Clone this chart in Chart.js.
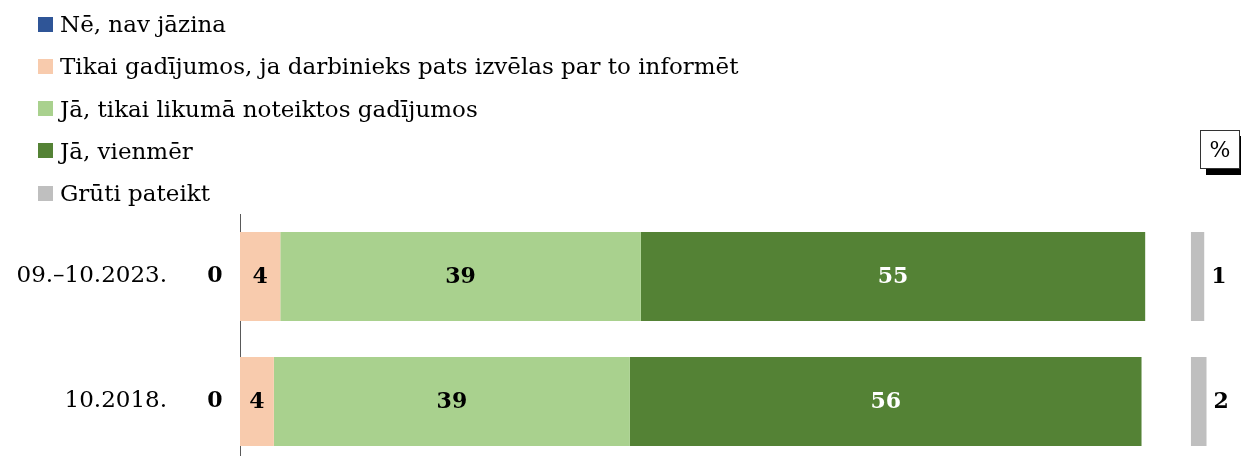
<!DOCTYPE html>
<html>
<head>
<meta charset="utf-8">
<script src="https://cdn.jsdelivr.net/npm/chart.js@4/dist/chart.umd.min.js"></script>
<style>
    body { margin: 0; background: #fff; }
    #wrap { position: relative; width: 1241px; height: 456px; overflow: hidden; }
    #chart-box { position: absolute; left: 0; top: 0; width: 1241px; height: 470px; }
    #legend { position: absolute; left: 38px; top: 3px; font-family: 'DejaVu Serif', serif; font-size: 23px; color: #000; }
    #legend .item { display: flex; align-items: center; height: 42.25px; }
    #legend .box { width: 15px; height: 15px; margin-right: 7px; }
    #percent { position: absolute; left: 1200px; top: 130px; width: 38px; height: 37px; border: 1px solid #333; background: #fff;
        box-shadow: 6px 6px 0 #000; font-family: 'DejaVu Serif', serif; font-size: 22px; text-align: center; line-height: 37px; }
</style>
</head>
<body>
<div id="wrap">
    <div id="chart-box"><canvas id="survey-chart" width="1241" height="470"></canvas></div>
    <div id="legend"></div>
    <div id="percent">%</div>
</div>
<script>
let categories = ['09.–10.2023.', '10.2018.'];
let series_names = ['Nē, nav jāzina', 'Tikai gadījumos, ja darbinieks pats izvēlas par to informēt', 'Jā, tikai likumā noteiktos gadījumos', 'Jā, vienmēr', 'Grūti pateikt'];
let series_colors = ['#2F5597', '#F8CBAD', '#A9D18E', '#548235', '#BFBFBF'];
let label_colors = ['#000', '#000', '#000', '#fff', '#000'];

let nav_jazina = [0, 0];
let tikai_pats = [4.4, 3.7];
let tikai_likuma = [39.4, 38.9];
let vienmer = [55.1, 55.9];
let gruti = [1.45, 1.7];

let series_values = [nav_jazina, tikai_pats, tikai_likuma, vienmer, gruti];

const X_MAX = 106.2;
const GREY_OFFSET = 103.9;

let legend = document.getElementById('legend');
series_names.forEach((name, i) => {
    legend.innerHTML += `<div class="item"><span class="box" style="background:${series_colors[i]}"></span>${name}</div>`;
});

const valueLabels = {
    id: 'valueLabels',
    afterDatasetsDraw(chart) {
        let ctx = chart.ctx;
        ctx.save();
        ctx.font = 'bold 22px "DejaVu Serif", serif';
        ctx.textBaseline = 'middle';
        chart.data.datasets.forEach((ds, i) => {
            let meta = chart.getDatasetMeta(i);
            meta.data.forEach((bar, j) => {
                let text = String(Math.round(ds.data[j]));
                ctx.fillStyle = label_colors[i];
                if (i == 0) {
                    ctx.textAlign = 'center';
                    ctx.fillText(text, chart.chartArea.left - 25, bar.y);
                } else if (i == 4) {
                    ctx.textAlign = 'left';
                    ctx.fillText(text, bar.x + 7, bar.y + 1);
                } else {
                    ctx.textAlign = 'center';
                    ctx.fillText(text, (bar.x + bar.base) / 2, bar.y + 1);
                }
            });
        });
        ctx.restore();
    }
};

let surveyChart = document.getElementById('survey-chart').getContext('2d');

let survey = new Chart(surveyChart, {
    type: 'bar',
    data: {
        labels: categories,
        datasets: series_names.map((name, i) => ({
            label: name,
            data: series_values[i],
            backgroundColor: series_colors[i],
            borderWidth: 0,
            xAxisID: i == 4 ? 'x2' : 'x',
            barPercentage: 0.712,
            categoryPercentage: 1
        }))
    },
    options: {
        indexAxis: 'y',
        responsive: false,
        animation: false,
        layout: { padding: { top: 214, right: 29, bottom: 6, left: 0 } },
        plugins: { legend: { display: false }, tooltip: { enabled: false } },
        scales: {
            x: { stacked: true, min: 0, max: X_MAX, display: false },
            x2: { stacked: true, min: -GREY_OFFSET, max: X_MAX - GREY_OFFSET, display: false },
            y: {
                stacked: true,
                afterFit: (scale) => {
                    scale.width = 240;
                    scale.paddingTop = 0;
                    scale.paddingBottom = 0;
                },
                grid: { display: false, drawTicks: false },
                border: { display: true, color: '#595959', width: 1 },
                ticks: {
                    padding: 73,
                    color: '#000',
                    font: { family: '"DejaVu Serif", serif', size: 23 }
                }
            }
        }
    },
    plugins: [valueLabels]
});
</script>
</body>
</html>
